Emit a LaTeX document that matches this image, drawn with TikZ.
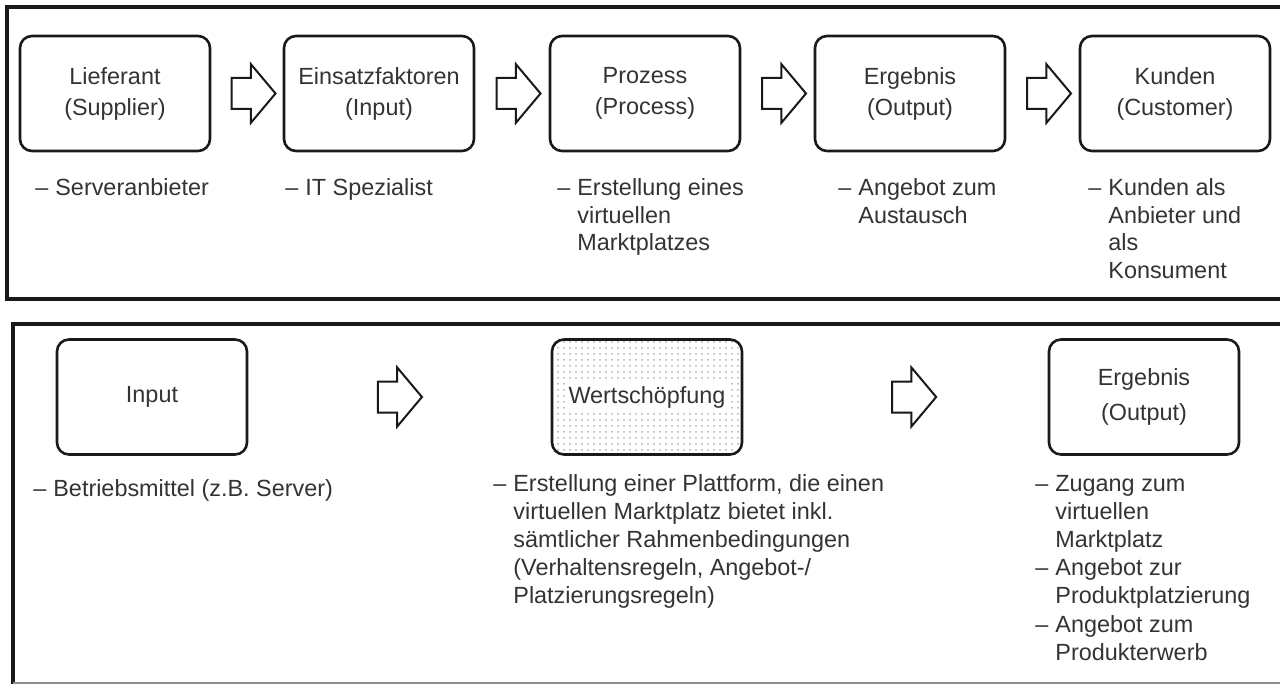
\documentclass[tikz,border=0pt]{standalone}
\usepackage{fontspec}
\setmainfont{Liberation Sans}
\usepackage{tikz}
\usetikzlibrary{positioning,calc,shapes.arrows,patterns}

\setlength{\fboxsep}{1.5pt}
\newcommand{\dashitems}[1]{\begin{tabular}[t]{@{}p{10pt}@{}l@{}}#1\end{tabular}}

\begin{document}
\begin{tikzpicture}[x=0.5pt,y=-0.5pt,
	stage/.style={draw=black!90,line width=1.3pt,rounded corners=6pt,minimum width=95pt,minimum height=57.5pt,
		align=center,inner sep=2pt,text=black!80,font=\fontsize{11.7}{15.5}\selectfont},
	valuebox/.style={stage,pattern=dots,pattern color=black!30},
	blockarrow/.style={single arrow,draw=black!90,line width=1pt,fill=white,minimum height=22pt,
		single arrow head extend=7pt,single arrow tip angle=100,inner xsep=0pt,inner ysep=7.25pt},
	notes/.style={anchor=base west,inner sep=0pt,text=black!80,font=\fontsize{11.7}{#1}\selectfont},
	notes/.default=13.7,
	frame/.style={draw=black!90,line width=1.6pt}]
	
	\useasboundingbox (0,0) rectangle (1280,684);
	
	\draw[frame] (1280,7) -- (7,7) -- (7,299) -- (1280,299);
	\draw[frame] (1280,324) -- (13,324) -- (13,684);
	\draw[black!45,line width=0.7pt] (13,683) -- (1280,683);
	
	\foreach \n/\x/\t in {lief/115/{Lieferant\\(Supplier)},eins/379/{Einsatzfaktoren\\(Input)},
		proz/645/{Prozess\\(Process)},erg/910/{Ergebnis\\(Output)},kund/1175/{Kunden\\(Customer)}}
	{
		\node[stage] (\n) at (\x,93.5) {\t};
	}
	
	\foreach \a/\b in {lief/eins,eins/proz,proz/erg,erg/kund}
		\node[blockarrow] (\a-\b) at ($(\a.east)!0.5!(\b.west)$) {};
	
	\node[notes] (lief-n) at (35,196) {\dashitems{– & Serveranbieter}};
	\node[notes] (eins-n) at (285,196) {\dashitems{– & IT Spezialist}};
	\node[notes] (proz-n) at (557,196) {\dashitems{– & Erstellung eines\\ & virtuellen\\ & Marktplatzes}};
	\node[notes] (erg-n) at (838,196) {\dashitems{– & Angebot zum\\ & Austausch}};
	\node[notes] (kund-n) at (1088,196) {\dashitems{– & Kunden als\\ & Anbieter und\\ & als\\ & Konsument}};
	
	\node[stage] (inp) at (152,397) {Input};
	\node[valuebox] (wert) at (647,397) {\colorbox{white}{Wertschöpfung}};
	\node[stage,font=\fontsize{11.7}{17.5}\selectfont] (out) at (1144,397) {Ergebnis\\(Output)};
	
	\node[blockarrow] (inp-wert) at ($(inp.east)!0.48!(wert.west)$) {};
	\node[blockarrow] (wert-out) at ($(wert.east)!0.54!(out.west)$) {};
	
	\node[notes=14.1] (inp-n) at (33,496) {\dashitems{– & Betriebsmittel (z.B. Server)}};
	\node[notes=14.1] (wert-n) at (493,491) {\dashitems{– & Erstellung einer Plattform, die einen\\ & virtuellen Marktplatz bietet inkl.\\
		& sämtlicher Rahmenbedingungen\\ & (Verhaltensregeln, Angebot-/\\ & Platzierungsregeln)}};
	\node[notes=14.1] (out-n) at (1035,491) {\dashitems{– & Zugang zum\\ & virtuellen\\ & Marktplatz\\ – & Angebot zur\\
		& Produktplatzierung\\ – & Angebot zum\\ & Produkterwerb}};
	
\end{tikzpicture}
\end{document}
